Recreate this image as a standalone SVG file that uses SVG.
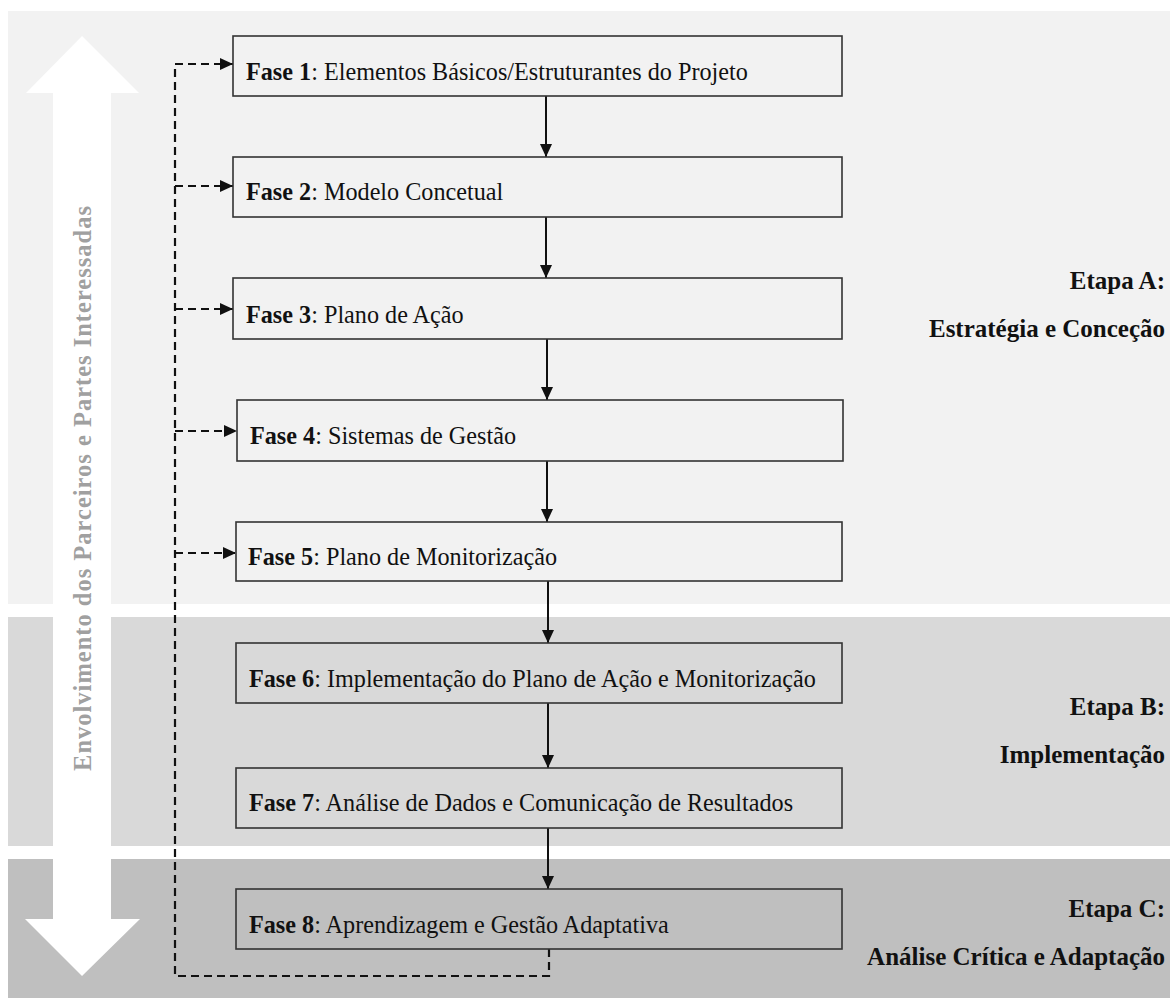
<svg xmlns="http://www.w3.org/2000/svg" width="1170" height="998" viewBox="0 0 1170 998">
<style>
.box{fill:none;stroke:#333;stroke-width:1.6}
.t{font-family:"Liberation Serif","DejaVu Serif",serif;font-size:24.2px;fill:#111}
.b{font-weight:bold}
.lab{font-family:"Liberation Serif","DejaVu Serif",serif;font-size:25px;font-weight:bold;fill:#111;text-anchor:end}
.solid{stroke:#111;stroke-width:2;fill:none;marker-end:url(#ah)}
.darr{stroke:#111;stroke-width:2.2;fill:none;stroke-dasharray:8 5;marker-end:url(#ah)}
</style>
<defs>
<marker id="ah" markerUnits="userSpaceOnUse" markerWidth="13" markerHeight="12" refX="13" refY="6" orient="auto">
<path d="M0,0 L13,6 L0,12 z" fill="#111"/>
</marker>
</defs>
<rect width="1170" height="998" fill="#fff"/>
<g id="bands">
<rect x="8" y="11" width="1162" height="593" fill="#f2f2f2"/>
<rect x="8" y="617" width="1162" height="229" fill="#d9d9d9"/>
<rect x="8" y="859" width="1162" height="139" fill="#bfbfbf"/>
</g>
<g id="stakeholder-arrow">
<polygon points="82,36 139,93 111,93 111,919 140,919 82,976 25,919 53,919 53,93 26,93" fill="#fff"/>
<text transform="translate(91,488) rotate(-90)" text-anchor="middle" font-family="Liberation Serif, DejaVu Serif, serif" font-size="24.5" font-weight="bold" fill="#a0a0a0" letter-spacing="1">Envolvimento dos Parceiros e Partes Interessadas</text>
</g>
<g id="connectors">
<path class="solid" d="M546,96 V157"/>
<path class="solid" d="M546,217 V278"/>
<path class="solid" d="M547,339 V400"/>
<path class="solid" d="M547,461 V522"/>
<path class="solid" d="M548,581 V643"/>
<path class="solid" d="M548,703 V768"/>
<path class="solid" d="M548,828 V889"/>
<path class="darr" d="M549,949 V976 H175 V64 H233"/>
<path class="darr" d="M175,186 H233"/>
<path class="darr" d="M175,309 H233"/>
<path class="darr" d="M175,431 H237"/>
<path class="darr" d="M175,553 H236"/>
</g>
<g id="fase1"><rect class="box" x="233" y="36" width="609" height="60"/><text class="t" x="246" y="80"><tspan class="b">Fase 1</tspan>: Elementos Básicos/Estruturantes do Projeto</text></g>
<g id="fase2"><rect class="box" x="233" y="157" width="609" height="60"/><text class="t" x="246" y="200"><tspan class="b">Fase 2</tspan>: Modelo Concetual</text></g>
<g id="fase3"><rect class="box" x="233" y="278" width="609" height="61"/><text class="t" x="246" y="323"><tspan class="b">Fase 3</tspan>: Plano de Ação</text></g>
<g id="fase4"><rect class="box" x="237" y="400" width="606" height="61"/><text class="t" x="250" y="444"><tspan class="b">Fase 4</tspan>: Sistemas de Gestão</text></g>
<g id="fase5"><rect class="box" x="236" y="522" width="606" height="59"/><text class="t" x="248" y="565"><tspan class="b">Fase 5</tspan>: Plano de Monitorização</text></g>
<g id="fase6"><rect class="box" x="236" y="643" width="606" height="60"/><text class="t" x="249" y="687"><tspan class="b">Fase 6</tspan>: Implementação do Plano de Ação e Monitorização</text></g>
<g id="fase7"><rect class="box" x="236" y="768" width="606" height="60"/><text class="t" x="249" y="811"><tspan class="b">Fase 7</tspan>: Análise de Dados e Comunicação de Resultados</text></g>
<g id="fase8"><rect class="box" x="236" y="889" width="606" height="60"/><text class="t" x="249" y="933"><tspan class="b">Fase 8</tspan>: Aprendizagem e Gestão Adaptativa</text></g>
<g id="etapaA"><text class="lab" x="1165" y="289">Etapa A:</text><text class="lab" x="1165" y="337">Estratégia e Conceção</text></g>
<g id="etapaB"><text class="lab" x="1165" y="715">Etapa B:</text><text class="lab" x="1165" y="763">Implementação</text></g>
<g id="etapaC"><text class="lab" x="1165" y="917">Etapa C:</text><text class="lab" x="1165" y="965">Análise Crítica e Adaptação</text></g>
</svg>
